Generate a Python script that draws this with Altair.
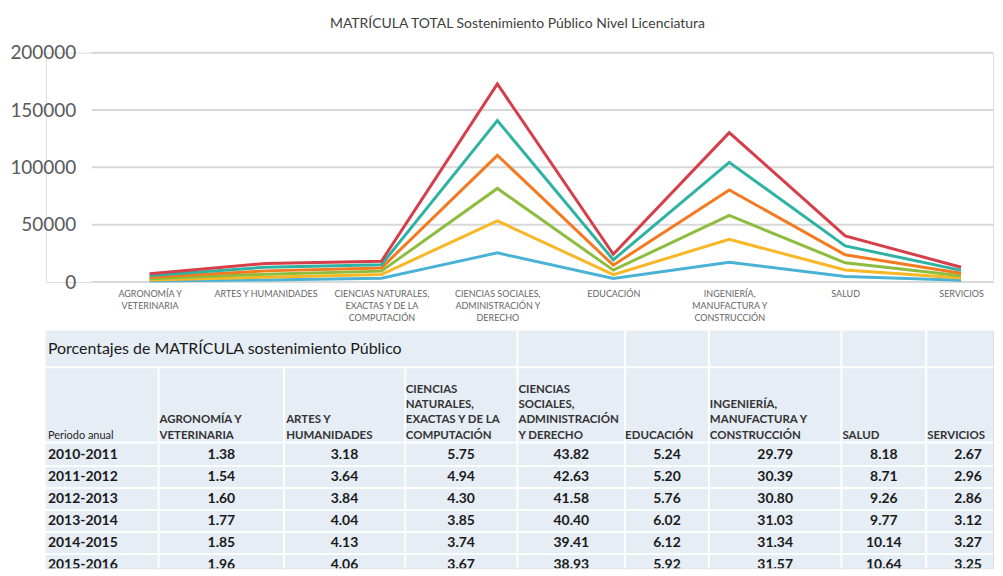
import json
import altair as alt
import pandas as pd

# ---------------- data ----------------
YEARS = ["2010-2011", "2011-2012", "2012-2013", "2013-2014", "2014-2015", "2015-2016"]
CATEGORIES = [
    "AGRONOMÍA Y VETERINARIA",
    "ARTES Y HUMANIDADES",
    "CIENCIAS NATURALES, EXACTAS Y DE LA COMPUTACIÓN",
    "CIENCIAS SOCIALES, ADMINISTRACIÓN Y DERECHO",
    "EDUCACIÓN",
    "INGENIERÍA, MANUFACTURA Y CONSTRUCCIÓN",
    "SALUD",
    "SERVICIOS",
]
AXIS_LABELS = [
    "AGRONOMÍA Y\nVETERINARIA",
    "ARTES Y HUMANIDADES",
    "CIENCIAS NATURALES,\nEXACTAS Y DE LA\nCOMPUTACIÓN",
    "CIENCIAS SOCIALES,\nADMINISTRACIÓN Y\nDERECHO",
    "EDUCACIÓN",
    "INGENIERÍA,\nMANUFACTURA Y\nCONSTRUCCIÓN",
    "SALUD",
    "SERVICIOS",
]
HEADER_LABELS = [
    "AGRONOMÍA Y\nVETERINARIA",
    "ARTES Y\nHUMANIDADES",
    "CIENCIAS\nNATURALES,\nEXACTAS Y DE LA\nCOMPUTACIÓN",
    "CIENCIAS\nSOCIALES,\nADMINISTRACIÓN\nY DERECHO",
    "EDUCACIÓN",
    "INGENIERÍA,\nMANUFACTURA Y\nCONSTRUCCIÓN",
    "SALUD",
    "SERVICIOS",
]
Y_TICKS = [0, 50000, 100000, 150000, 200000]

# matrícula (students) per period, per area
MAT_2010_2011 = [800, 1844, 3335, 25416, 3039, 17278, 4744, 1549]
MAT_2011_2012 = [1009, 2384, 3236, 27923, 3406, 19905, 5705, 1939]
MAT_2012_2013 = [1088, 2611, 2924, 28274, 3917, 20944, 6297, 1945]
MAT_2013_2014 = [1266, 2889, 2753, 28886, 4304, 22186, 6986, 2231]
MAT_2014_2015 = [1425, 3180, 2880, 30346, 4712, 24132, 7808, 2518]
MAT_2015_2016 = [1607, 3329, 3009, 31923, 4854, 25887, 8725, 2665]
MATRICULA = [MAT_2010_2011, MAT_2011_2012, MAT_2012_2013,
             MAT_2013_2014, MAT_2014_2015, MAT_2015_2016]

# percentages per area (table), one value per period
PCT_AGRO = [1.38, 1.54, 1.60, 1.77, 1.85, 1.96]
PCT_ARTES = [3.18, 3.64, 3.84, 4.04, 4.13, 4.06]
PCT_CNAT = [5.75, 4.94, 4.30, 3.85, 3.74, 3.67]
PCT_CSOC = [43.82, 42.63, 41.58, 40.40, 39.41, 38.93]
PCT_EDU = [5.24, 5.20, 5.76, 6.02, 6.12, 5.92]
PCT_ING = [29.79, 30.39, 30.80, 31.03, 31.34, 31.57]
PCT_SALUD = [8.18, 8.71, 9.26, 9.77, 10.14, 10.64]
PCT_SERV = [2.67, 2.96, 2.86, 3.12, 3.27, 3.25]
PCTS = [PCT_AGRO, PCT_ARTES, PCT_CNAT, PCT_CSOC, PCT_EDU, PCT_ING, PCT_SALUD, PCT_SERV]

CHART_TITLE = "MATRÍCULA TOTAL Sostenimiento Público Nivel Licenciatura"
TABLE_TITLE = "Porcentajes de MATRÍCULA sostenimiento Público"
FIRST_HEADER = "Periodo anual"

# ---------------- style ----------------
COLORS = ["#4ab3d5", "#f9b625", "#8dbd3e", "#f47a22", "#2db3a4", "#d63f49"]
FONT = "Lato"
W = 950          # both panels start at page x = 45
PLOT_X0 = 46     # where the line chart grid starts (page x = 91)

# ---------------- line chart ----------------
rows = []
for yr, vals in zip(YEARS, MATRICULA):
    for cat, v in zip(CATEGORIES, vals):
        rows.append({"periodo": yr, "area": cat, "matricula": v})
df_lines = pd.DataFrame(rows)

label_expr = "split({}[indexof({}, datum.value)], '\\n')".format(
    json.dumps(AXIS_LABELS, ensure_ascii=False), json.dumps(CATEGORIES, ensure_ascii=False)
)

y_scale = alt.Scale(domain=[0, 200000])

grid = alt.Chart(pd.DataFrame({"v": Y_TICKS})).mark_rule(
    color="#d9d9d9", strokeWidth=2
).encode(
    y=alt.Y("v:Q", scale=y_scale),
    x=alt.value(PLOT_X0),
    x2=alt.value(W),
)

lines = alt.Chart(df_lines).transform_stack(
    stack="matricula",
    groupby=["area"],
    sort=[alt.SortField("periodo", order="ascending")],
    as_=["y0", "y1"],
).mark_line(strokeWidth=3).encode(
    x=alt.X(
        "area:N",
        sort=CATEGORIES,
        scale=alt.Scale(domain=CATEGORIES, range=[PLOT_X0 + 58, PLOT_X0 + 872], padding=0),
        axis=alt.Axis(
            title=None, labelExpr=label_expr, labelAngle=0, domain=False, ticks=False,
            labelFont=FONT, labelFontSize=9, labelColor="#666666", labelPadding=8,
            labelLineHeight=12, grid=False,
        ),
    ),
    y=alt.Y(
        "y1:Q",
        scale=y_scale,
        axis=alt.Axis(
            title=None, values=Y_TICKS, format="d", offset=-PLOT_X0,
            grid=False, domain=False, ticks=False,
            labelFont=FONT, labelFontSize=19, labelColor="#595959", labelPadding=16,
        ),
    ),
    color=alt.Color("periodo:N", scale=alt.Scale(domain=YEARS, range=COLORS), legend=None),
)

top = alt.layer(grid, lines).properties(
    width=W,
    height=230,
    title=alt.TitleParams(
        CHART_TITLE, font=FONT, fontSize=14, fontWeight="normal", color="#404040",
        dx=-2, offset=13,
    ),
)

# ---------------- table ----------------
TH = 238
BG = "#e6edf5"
one = pd.DataFrame({"k": [0]})
layers = []
layers.append(
    alt.Chart(one).mark_rect(color=BG).encode(
        x=alt.value(0), x2=alt.value(W), y=alt.value(0), y2=alt.value(TH)
    )
)
layers.append(
    alt.Chart(one).mark_text(align="left", baseline="middle", font=FONT, fontSize=16,
                             color="#1a1a1a").encode(
        x=alt.value(2), y=alt.value(18), text=alt.value(TABLE_TITLE)
    )
)
# white grid lines
H_LINES = [36.5, 112, 135.5, 157.6, 179.7, 201.8, 223.9]
for py in H_LINES:
    layers.append(
        alt.Chart(one).mark_rule(color="white", strokeWidth=2).encode(
            x=alt.value(0), x2=alt.value(W), y=alt.value(py)
        )
    )
V_LINES = [(113, 36.5), (239, 36.5), (360.5, 36.5), (473, 0), (581, 0), (665, 0), (798, 0), (883, 0)]
for px, top_y in V_LINES:
    layers.append(
        alt.Chart(one).mark_rule(color="white", strokeWidth=2).encode(
            x=alt.value(px), y=alt.value(top_y), y2=alt.value(TH)
        )
    )

HEADER_X = [114, 241, 361, 474, 581, 666, 799, 884]
VALUE_X = [176, 299.5, 416.5, 527, 623, 731.5, 840.5, 925]
HEADER_BOTTOM = 110
HEADER_LH = 15.3
year_scale = alt.Scale(domain=YEARS, range=[124.5, 235], padding=0)

layers.append(
    alt.Chart(one).mark_text(align="left", baseline="bottom", font=FONT, fontSize=11,
                             color="#262626").encode(
        x=alt.value(2), y=alt.value(HEADER_BOTTOM), text=alt.value(FIRST_HEADER)
    )
)
df_years = pd.DataFrame({"periodo": YEARS})
layers.append(
    alt.Chart(df_years).mark_text(align="left", baseline="middle", font=FONT, fontSize=14,
                                  fontWeight="bold", color="#1a1a1a", clip=True).encode(
        x=alt.value(2),
        y=alt.Y("periodo:N", scale=year_scale, axis=None),
        text="periodo:N",
    )
)
for i, cat in enumerate(CATEGORIES):
    n_lines = len(HEADER_LABELS[i].split("\n"))
    layers.append(
        alt.Chart(one).mark_text(align="left", baseline="bottom", font=FONT, fontSize=11.5,
                                 fontWeight="bold", color="#333333", lineBreak="\n",
                                 lineHeight=HEADER_LH).encode(
            x=alt.value(HEADER_X[i]),
            y=alt.value(HEADER_BOTTOM - (n_lines - 1) * HEADER_LH),
            text=alt.value(HEADER_LABELS[i]),
        )
    )
    dfc = pd.DataFrame({"periodo": YEARS, "pct": PCTS[i]})
    layers.append(
        alt.Chart(dfc).mark_text(align="center", baseline="middle", font=FONT, fontSize=14,
                                 fontWeight="bold", color="#1a1a1a", clip=True).encode(
            x=alt.value(VALUE_X[i]),
            y=alt.Y("periodo:N", scale=year_scale, axis=None),
            text=alt.Text("pct:Q", format=".2f"),
        )
    )

table = alt.layer(*layers).properties(width=W, height=TH)

chart = alt.vconcat(top, table, spacing=5).properties(
    padding={"left": 1, "top": 7, "right": 0, "bottom": 0}
).configure_view(stroke=None).configure(background="white")

chart.save("out.html", embed_options={"renderer": "svg", "actions": False})
